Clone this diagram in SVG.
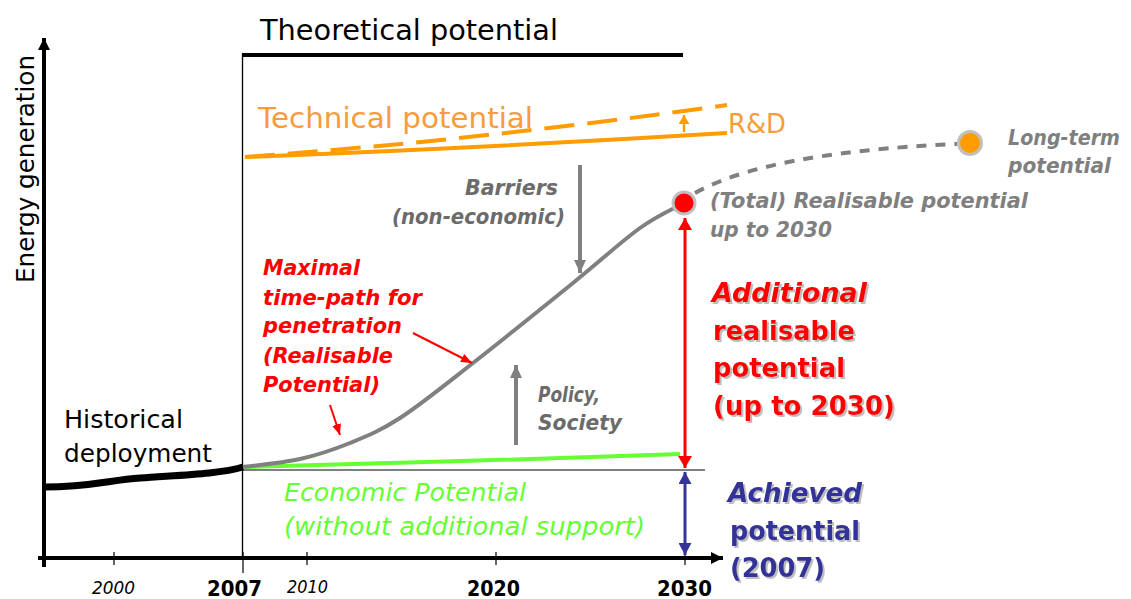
<svg xmlns="http://www.w3.org/2000/svg" width="1131" height="599" viewBox="0 0 1131 599">
<style>
text{font-family:"DejaVu Sans","Liberation Sans",sans-serif}
.bi{font-weight:bold;font-style:italic}
.b{font-weight:bold}
.i{font-style:italic}
.gray{fill:#6b6b6b}
.gray2{fill:#7f7f7f}
.red{fill:#ff0000}
.blue{fill:#333399}
.org{fill:#f89b3c}
.grn{fill:#66ff33}
.tick{stroke:#000;stroke-width:1.2}
</style>
<defs>
<filter id="sh" x="-10%" y="-20%" width="130%" height="150%">
<feDropShadow dx="2" dy="2" stdDeviation="0.6" flood-color="#888" flood-opacity="0.55"/>
</filter>
<marker id="ahBlack" markerUnits="userSpaceOnUse" viewBox="0 0 12 12" refX="12" refY="6" markerWidth="12" markerHeight="12" orient="auto"><path d="M0,0L12,6L0,12z" fill="#000"/></marker>
<marker id="ahRed" markerUnits="userSpaceOnUse" viewBox="0 0 12 14" refX="12" refY="7" markerWidth="12" markerHeight="14" orient="auto-start-reverse"><path d="M0,0L12,7L0,14z" fill="#ff0000"/></marker>
<marker id="ahBlue" markerUnits="userSpaceOnUse" viewBox="0 0 12 13" refX="12" refY="6.5" markerWidth="12" markerHeight="13" orient="auto-start-reverse"><path d="M0,0L12,6.5L0,13z" fill="#333399"/></marker>
<marker id="ahGray" markerUnits="userSpaceOnUse" viewBox="0 0 13 12" refX="13" refY="6" markerWidth="13" markerHeight="12" orient="auto"><path d="M0,0L13,6L0,12z" fill="#808080"/></marker>
<marker id="ahOrg" markerUnits="userSpaceOnUse" viewBox="0 0 9 11" refX="9" refY="5.5" markerWidth="9" markerHeight="11" orient="auto"><path d="M0,0L9,5.5L0,11z" fill="#ff9c00"/></marker>
<marker id="ahRedS" markerUnits="userSpaceOnUse" viewBox="0 0 11 9" refX="11" refY="4.5" markerWidth="11" markerHeight="9" orient="auto"><path d="M0,0L11,4.5L0,9z" fill="#ff0000"/></marker>
</defs>
<rect width="1131" height="599" fill="#fff"/>

<g id="axes">
<line x1="44" y1="567" x2="44" y2="38" stroke="#000" stroke-width="4" marker-end="url(#ahBlack)"/>
<line x1="38" y1="558" x2="723" y2="558" stroke="#000" stroke-width="4" marker-end="url(#ahBlack)"/>
<line class="tick" x1="114" y1="552" x2="114" y2="565"/>
<line class="tick" x1="243" y1="552" x2="243" y2="573"/>
<line class="tick" x1="307" y1="552" x2="307" y2="565"/>
<line class="tick" x1="496" y1="552" x2="496" y2="565"/>
<line class="tick" x1="685" y1="552" x2="685" y2="565"/>
<text x="92" y="594" font-size="17" class="i" textLength="43" lengthAdjust="spacingAndGlyphs">2000</text>
<text x="207" y="596" font-size="22" class="b" textLength="55" lengthAdjust="spacingAndGlyphs">2007</text>
<text x="287" y="593" font-size="17" class="i" textLength="41" lengthAdjust="spacingAndGlyphs">2010</text>
<text x="467" y="596" font-size="22" class="b" textLength="53" lengthAdjust="spacingAndGlyphs">2020</text>
<text x="657" y="596" font-size="22" class="b" textLength="55" lengthAdjust="spacingAndGlyphs">2030</text>
<text transform="translate(34,283) rotate(-90)" font-size="25" textLength="228" lengthAdjust="spacingAndGlyphs">Energy generation</text>
</g>

<g id="theoretical">
<line x1="242" y1="55" x2="683" y2="55" stroke="#000" stroke-width="4"/>
<line x1="242.5" y1="54" x2="242.5" y2="560" stroke="#000" stroke-width="1.3"/>
<text x="260" y="40" font-size="28" textLength="298" lengthAdjust="spacingAndGlyphs">Theoretical potential</text>
</g>

<g id="technical">
<path d="M245,157 Q480,148 727,133" fill="none" stroke="#ff9c00" stroke-width="4"/>
<path d="M245,157 Q480,140 727,105" fill="none" stroke="#ff9c00" stroke-width="4" stroke-dasharray="30 13"/>
<text x="258" y="128" font-size="28" class="org" textLength="275" lengthAdjust="spacingAndGlyphs">Technical potential</text>
<text x="728" y="133" font-size="27" class="org" textLength="58" lengthAdjust="spacingAndGlyphs">R&amp;D</text>
</g>

<g id="historical">
<path d="M44,487 C90,487 110,480 140,478 C180,475 220,474 243,467" fill="none" stroke="#000" stroke-width="7"/>
<text x="64" y="428" font-size="25" textLength="119" lengthAdjust="spacingAndGlyphs">Historical</text>
<text x="64" y="462" font-size="25" textLength="148" lengthAdjust="spacingAndGlyphs">deployment</text>
</g>

<g id="economic">
<line x1="243" y1="470" x2="705" y2="470" stroke="#000" stroke-width="1"/>
<path d="M243,467 Q450,462 680,454" fill="none" stroke="#66ff33" stroke-width="4"/>
<text x="284" y="501" font-size="24" class="i grn" textLength="242" lengthAdjust="spacingAndGlyphs">Economic Potential</text>
<text x="284" y="535" font-size="24" class="i grn" textLength="361" lengthAdjust="spacingAndGlyphs">(without additional support)</text>
</g>

<g id="realisable">
<path d="M243,467 C252.5,465.7 282.2,463 300,459 C317.8,455 333.3,449.8 350,443 C366.7,436.2 379.5,431.3 400,418 C420.5,404.7 444.2,385.5 473,363 C501.8,340.5 545.2,305.5 573,283 C600.8,260.5 621.5,241.3 640,228 C658.5,214.7 676.7,207.2 684,203" fill="none" stroke="#808080" stroke-width="4"/>
<path d="M695,193 C740,168 820,150 957,144" fill="none" stroke="#808080" stroke-width="4" stroke-dasharray="10 9"/>
<circle id="dot2030" cx="684" cy="203" r="11" fill="#ff0000" stroke="#c0c0c0" stroke-width="3"/>
<circle id="dotLong" cx="970" cy="143" r="11.5" fill="#ff9c00" stroke="#c0c0c0" stroke-width="3"/>
<text x="710" y="208" font-size="21" class="bi gray2" textLength="318" lengthAdjust="spacingAndGlyphs">(Total) Realisable potential</text>
<text x="710" y="237" font-size="21" class="bi gray2" textLength="122" lengthAdjust="spacingAndGlyphs">up to 2030</text>
<text x="1008" y="145" font-size="21" class="bi gray2" textLength="112" lengthAdjust="spacingAndGlyphs">Long-term</text>
<text x="1008" y="173" font-size="21" class="bi gray2" textLength="103" lengthAdjust="spacingAndGlyphs">potential</text>
</g>

<g id="maximal-label">
<text x="263" y="275" font-size="21" class="bi red" textLength="97" lengthAdjust="spacingAndGlyphs">Maximal</text>
<text x="263" y="305" font-size="21" class="bi red" textLength="159" lengthAdjust="spacingAndGlyphs">time-path for</text>
<text x="263" y="333" font-size="21" class="bi red" textLength="139" lengthAdjust="spacingAndGlyphs">penetration</text>
<text x="263" y="363" font-size="21" class="bi red" textLength="130" lengthAdjust="spacingAndGlyphs">(Realisable</text>
<text x="263" y="392" font-size="21" class="bi red" textLength="117" lengthAdjust="spacingAndGlyphs">Potential)</text>
</g>

<g id="barriers-label">
<text x="465" y="195" font-size="22" class="bi gray" textLength="93" lengthAdjust="spacingAndGlyphs">Barriers</text>
<text x="392" y="224" font-size="22" class="bi gray" textLength="173" lengthAdjust="spacingAndGlyphs">(non-economic)</text>
</g>

<g id="policy-label">
<text x="538" y="402" font-size="22" class="bi gray" textLength="62" lengthAdjust="spacingAndGlyphs">Policy,</text>
<text x="538" y="430" font-size="22" class="bi gray" textLength="84" lengthAdjust="spacingAndGlyphs">Society</text>
</g>

<g id="additional-label" filter="url(#sh)">
<text x="712" y="302" font-size="27" class="bi red" textLength="155" lengthAdjust="spacingAndGlyphs">Additional</text>
<text x="713" y="340" font-size="27" class="b red" textLength="142" lengthAdjust="spacingAndGlyphs">realisable</text>
<text x="713" y="377" font-size="27" class="b red" textLength="132" lengthAdjust="spacingAndGlyphs">potential</text>
<text x="713" y="415" font-size="27" class="b red" textLength="182" lengthAdjust="spacingAndGlyphs">(up to 2030)</text>
</g>

<g id="achieved-label" filter="url(#sh)">
<text x="728" y="502" font-size="27" class="bi blue" textLength="134" lengthAdjust="spacingAndGlyphs">Achieved</text>
<text x="730" y="540" font-size="27" class="b blue" textLength="130" lengthAdjust="spacingAndGlyphs">potential</text>
<text x="730" y="577" font-size="27" class="b blue" textLength="95" lengthAdjust="spacingAndGlyphs">(2007)</text>
</g>

<g id="connectors">
<line x1="685" y1="218" x2="685" y2="468" stroke="#ff0000" stroke-width="3" marker-start="url(#ahRed)" marker-end="url(#ahRed)"/>
<line x1="685" y1="472" x2="685" y2="555" stroke="#333399" stroke-width="3" marker-start="url(#ahBlue)" marker-end="url(#ahBlue)"/>
<line x1="580" y1="165" x2="580" y2="273" stroke="#808080" stroke-width="4" marker-end="url(#ahGray)"/>
<line x1="516" y1="445" x2="516" y2="365" stroke="#808080" stroke-width="4" marker-end="url(#ahGray)"/>
<line x1="684" y1="132" x2="684" y2="115" stroke="#ff9c00" stroke-width="2.5" marker-end="url(#ahOrg)"/>
<line x1="413" y1="333" x2="472" y2="363" stroke="#ff0000" stroke-width="2" marker-end="url(#ahRedS)"/>
<line x1="330" y1="405" x2="340" y2="435" stroke="#ff0000" stroke-width="2" marker-end="url(#ahRedS)"/>
</g>
</svg>
